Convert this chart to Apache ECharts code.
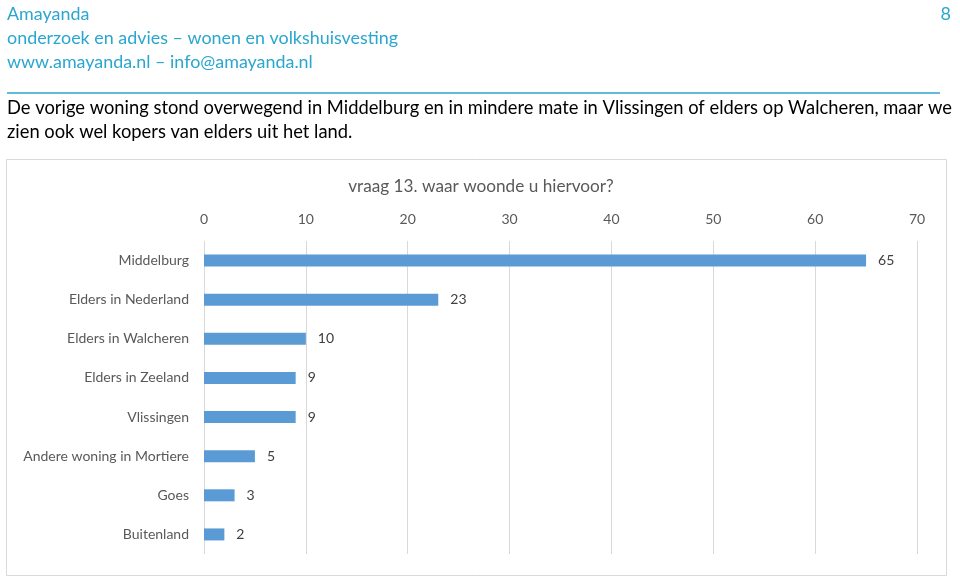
<!DOCTYPE html>
<html>
<head>
<meta charset="utf-8">
<script src="https://cdn.jsdelivr.net/npm/echarts@6/dist/echarts.min.js"></script>
<style>html,body{margin:0;padding:0;background:#fff}#c{width:960px;height:577px}</style>
</head>
<body>
<div id="c"></div>
<script>
const categories = ["Middelburg","Elders in Nederland","Elders in Walcheren","Elders in Zeeland","Vlissingen","Andere woning in Mortiere","Goes","Buitenland"];
const values = [65,23,10,9,9,5,3,2];
const xTicks = [0,10,20,30,40,50,60,70];
const chartTitle = "vraag 13. waar woonde u hiervoor?";
const headerLines = ["Amayanda","onderzoek en advies \u2013 wonen en volkshuisvesting","www.amayanda.nl \u2013 info@amayanda.nl"];
const pageNumber = "8";
const bodyLines = ["De vorige woning stond overwegend in Middelburg en in mindere mate in Vlissingen of elders op Walcheren, maar we","zien ook wel kopers van elders uit het land."];

const FONT = "Lato, 'Open Sans', sans-serif";
const blue = "#2aa6cf";
const chart = echarts.init(document.getElementById('c'), null, {renderer:'canvas'});
const graphics = [];
headerLines.forEach((t,i)=>{
  graphics.push({type:'text', left:7, top:5+i*24, style:{text:t, fill:blue, font:"17.9px "+FONT}});
});
graphics.push({type:'text', right:9, top:5, style:{text:pageNumber, fill:blue, font:"18px "+FONT}});
graphics.push({type:'line', shape:{x1:7,y1:93,x2:940,y2:93}, style:{stroke:blue, lineWidth:1.5}});
bodyLines.forEach((t,i)=>{
  graphics.push({type:'text', left:7, top:99+i*24, style:{text:t, fill:"#000", font:"18.35px "+FONT}});
});
graphics.push({type:'rect', shape:{x:6.5,y:159.5,width:940,height:416}, style:{fill:'none', stroke:'#d9d9d9', lineWidth:1}, z:-1});

chart.setOption({
  animation:false,
  textStyle:{fontFamily:FONT},
  graphic: graphics,
  title:{text:chartTitle, left:476, top:173, textAlign:'center', textStyle:{fontSize:17.2, fontWeight:'normal', color:'#595959', fontFamily:FONT}},
  grid:{left:204, right:43, top:241, bottom:23, containLabel:false},
  xAxis:{type:'value', position:'top', min:0, max:70, interval:10,
    axisLine:{show:false}, axisTick:{show:false},
    axisLabel:{color:'#595959', fontSize:14, margin:15, fontFamily:FONT, formatter:(v)=> xTicks.includes(v)? String(v):''},
    splitLine:{lineStyle:{color:'#d9d9d9', width:1}}},
  yAxis:{type:'category', data:categories, inverse:true,
    axisLine:{show:false}, axisTick:{show:false},
    axisLabel:{color:'#595959', fontSize:14, margin:15, fontFamily:FONT}},
  series:[{type:'bar', data:values, barWidth:12, itemStyle:{color:'#5b9bd5'},
    label:{show:true, position:'right', distance:12, color:'#404040', fontSize:14, fontFamily:FONT}}]
});
</script>
</body>
</html>
